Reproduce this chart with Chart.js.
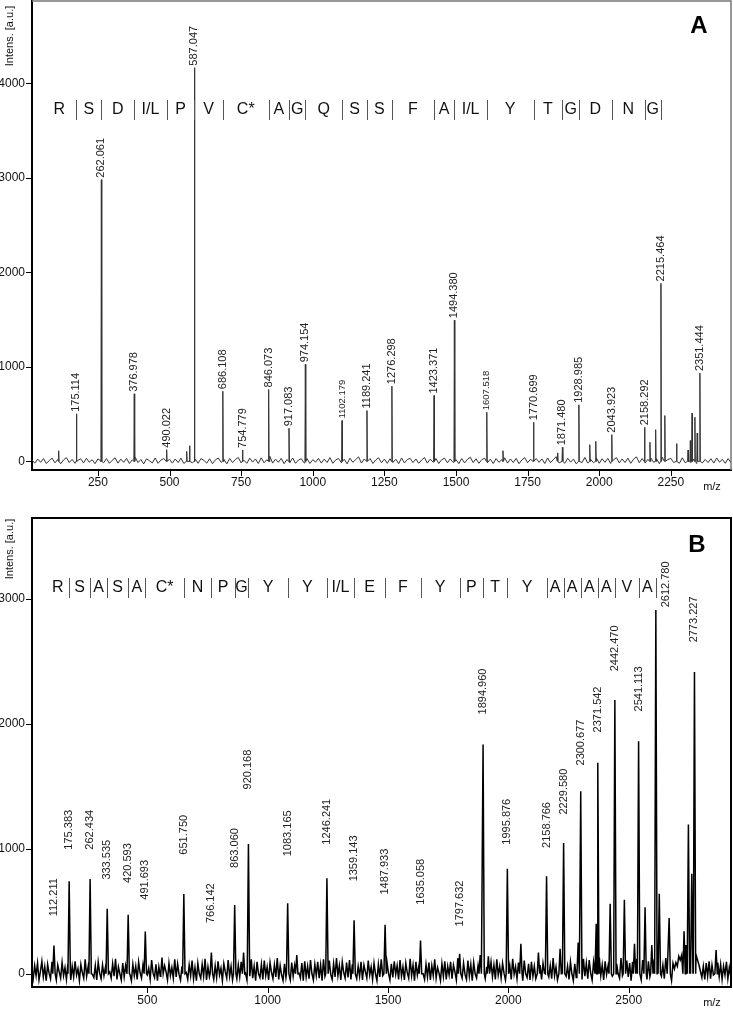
<!DOCTYPE html>
<html>
<head>
<meta charset="utf-8">
<script src="https://cdn.jsdelivr.net/npm/chart.js@4"></script>
<style>
  html, body { margin: 0; padding: 0; background: #fff; }
  #wrap { position: relative; width: 733px; height: 1010px; overflow: hidden; }
  canvas { position: absolute; left: 0; }
  #chartA { top: 0; }
  #chartB { top: 495px; }
</style>
</head>
<body>
<div id="wrap">
  <canvas id="chartA" width="733" height="496"></canvas>
  <canvas id="chartB" width="733" height="515"></canvas>
</div>
<script>
"use strict";

// スペクトルA: ラベル付きピーク
const peakMzA = [175.114, 262.061, 376.978, 490.022, 587.047, 686.108, 754.779, 846.073, 917.083, 974.154,
    1102.179, 1189.241, 1276.298, 1423.371, 1494.380, 1607.518, 1770.699, 1871.480, 1928.985, 2043.923,
    2158.292, 2215.464, 2351.444];
const peakIntA = [503, 2980, 715, 124, 4165, 743, 121, 761, 350, 1027,
    432, 538, 796, 697, 1494, 520, 414, 149, 599, 283,
    361, 1883, 934];
const smallLabelsA = [1102.179, 1607.518];

// スペクトルA: ラベルなしの小さいピーク
const minorMzA = [113, 560, 570, 1664, 1855, 1967, 1988, 2177, 2197, 2229, 2270, 2310, 2318, 2324, 2334, 2342];
const minorIntA = [113, 106, 166, 113, 90, 177, 212, 202, 336, 485, 188, 120, 220, 510, 467, 300];

// スペクトルA: アミノ酸配列と切れ目
const seqA = ["R", "S", "D", "I/L", "P", "V", "C*", "A", "G", "Q", "S", "S", "F", "A", "I/L", "Y", "T", "G", "D", "N", "G"];
const seqCutsA = [175.114, 262.061, 376.978, 490.022, 587.047, 686.108, 846.073, 917.083, 974.154, 1102.179,
    1189.241, 1276.298, 1423.371, 1494.380, 1607.518, 1770.699, 1871.480, 1928.985, 2043.923, 2158.292, 2215.464];
const seqStartA = 55;

// スペクトルA: 目盛り
const xLabelsA = [250, 500, 750, 1000, 1250, 1500, 1750, 2000, 2250];
const yLabelsA = [0, 1000, 2000, 3000, 4000];

// スペクトルA: ベースラインのノイズ (m/z 20 から 10 刻み)
const noiseStartA = 20;
const noiseStepA = 10;
const noiseA = [
    12, -18, 25, -10, 30, -22, 8, 35, -15, 20, -25, 15, 40, -12, 22, -20, 10, 28, -16, 33, -8, 18, -24, 26, 5,
    -14, 30, -20, 12, 38, -18, 24, -10, 32, -22, 16, 45, -12, 20, -26, 28, 6, -16, 36, -20, 14, 30, -10, 22, -18,
    26, -12, 34, -22, 18, 40, -14, 24, -20, 30, 10, -18, 28, -24, 16, 36, -10, 22, -26, 30, -12, 20, 42, -16, 12,
    -20, 34, -8, 26, -22, 38, -14, 18, 55, -18, 24, -10, 32, -24, 20, -12, 36, -20, 14, 28, -16, 30, -22, 18, -8,
    32, -18, 24, -12, 40, -20, 16, 30, -14, 22, -26, 34, -10, 20, 48, -18, 26, -12, 30, -22, 16, 38, -14, 24, -20,
    28, -10, 22, -24, 36, -16, 20, 32, -12, 26, -20, 14, 40, -18, 24, -8, 30, -22, 18, 34, -14, 26, -10, 20, -24,
    30, -16, 22, 44, -12, 28, -20, 18, 34, -14, 24, -22, 30, -10, 20, 38, -18, 26, -12, 32, -24, 16, 40, -14, 22,
    -18, 30, -10, 26, -22, 36, -14, 20, 50, -16, 28, -20, 34, -8, 24, -26, 30, -12, 42, -18, 22, -14, 36, -20, 28,
    -10, 32, -22, 18, 40, -16, 26, -12, 34, -20, 24, 48, -14, 30, -18, 22, 36, -10, 28, -24, 44, -16, 20, 32, -12,
    26, -20, 38, -14, 30, -10, 24, -22, 34, -16, 20, -12, 28, -18, 36, -8, 22, -20, 30, -14
];

// スペクトルB: ラベル付きピーク
const peakMzB = [112.211, 175.383, 262.434, 333.535, 420.593, 491.693, 651.750, 766.142, 863.060, 920.168,
    1083.165, 1246.241, 1359.143, 1487.933, 1635.058, 1797.632, 1894.960, 1995.876, 2158.766, 2229.580,
    2300.677, 2371.542, 2442.470, 2541.113, 2612.780, 2773.227];
const peakIntB = [227, 740, 759, 521, 473, 339, 639, 170, 551, 1040,
    564, 764, 428, 393, 267, 160, 1836, 840, 780, 1048,
    1462, 1690, 2192, 1863, 2913, 2416];

// スペクトルB: ラベルなしの小さいピーク
const minorMzB = [561, 900, 1121, 1883, 1917, 2052, 2125, 2215, 2290, 2365, 2423, 2482, 2524, 2568, 2596, 2627, 2668, 2730, 2748, 2762, 2863];
const minorIntB = [130, 170, 150, 150, 140, 240, 170, 200, 250, 400, 561, 593, 240, 532, 230, 641, 447, 340, 1195, 800, 190];

// スペクトルB: アミノ酸配列と切れ目
const seqB = ["R", "S", "A", "S", "A", "C*", "N", "P", "G", "Y", "Y", "I/L", "E", "F", "Y", "P", "T", "Y", "A", "A", "A", "A", "V", "A"];
const seqCutsB = [175.383, 262.434, 333.535, 420.593, 491.693, 651.750, 766.142, 863.060, 920.168, 1083.165,
    1246.241, 1359.143, 1487.933, 1635.058, 1797.632, 1894.960, 1995.876, 2158.766, 2229.580, 2300.677,
    2371.542, 2442.470, 2541.113, 2612.780];
const seqStartB = 80;

// スペクトルB: 目盛り
const xLabelsB = [500, 1000, 1500, 2000, 2500];
const yLabelsB = [0, 1000, 2000, 3000];

// スペクトルB: ベースラインのノイズ (m/z 20 から 6 刻み)
const noiseStartB = 20;
const noiseStepB = 6;
const noiseB = [
    30, -40, 65, -15, 85, -50, 20, 100, -25, 55, -55, 75, 5, -40, 95, -20, 45, -50, 70, 15, -35, 90, -15, 50, -45,
    80, 0, -50, 60, -25, 100, -10, 40, -55, 75, 10, -35, 115, -20, 55, -45, 85, -5, -30, 65, -50, 95, 5, -40, 70,
    -15, 50, -55, 90, 15, -35, 80, -20, 120, -45, 55, 0, -50, 85, -25, 65, -40, 105, -5, -55, 75, -15, 60, -45, 95,
    10, -35, 70, -50, 90, -10, 45, -45, 110, 5, -30, 75, -55, 55, -20, 100, -40, 65, 15, -50, 85, -15, 50, -35, 115,
    -25, 80, -5, -50, 60, -30, 95, 10, -45, 70, -15, 105, -40, 50, -55, 85, 0, -35, 75, -20, 120, -50, 55, -25, 90,
    5, -45, 65, -30, 100, -10, 45, -55, 80, 15, -35, 110, -20, 60, -50, 90, -5, -40, 70, -25, 95, -45, 50, 5, -50,
    85, -20, 115, -35, 60, -55, 95, 0, -30, 75, -45, 105, -15, 55, -50, 90, 10, -40, 70, -25, 125, -45, 65, -10, -55,
    80, -30, 105, -5, -50, 90, -20, 65, -45, 120, 5, -35, 85, -55, 100, -25, 60, -40, 110, 0, -50, 75, -15, 95, -35,
    70, -55, 115, -20, 85, -40, 105, -5, -45, 80, -25, 125, -15, 65, -50, 95, 10, -35, 90, -30, 110, -45, 75, -10, 100,
    -40, 60, -20, 95, -50, 70, 15, -35, 105, -10, 55, -45, 85, 0, -55, 75, -25, 115, -15, 50, -40, 90, 5, -50, 80,
    -30, 100, -5, 65, -45, 110, -20, 55, -50, 85, 10, -35, 120, -15, 70, -55, 95, -10, 60, -40, 105, 0, -45, 75, -25,
    90, -50, 65, -15, 115, -35, 50, 5, -55, 80, -20, 100, -45, 60, -10, 95, -40, 70, 15, -50, 125, -25, 55, -35, 85,
    -5, -45, 105, -20, 75, -55, 90, 0, -35, 65, -50, 110, -15, 80, -40, 55, 10, -55, 95, -25, 70, -45, 115, -10, 60,
    -35, 85, 5, -50, 100, -20, 65, -45, 120, -5, 55, -40, 90, -15, 75, -55, 105, 0, -30, 80, -50, 95, -20, 60, -40,
    110, -10, 70, -45, 85, 5, -55, 100, -25, 65, -40, 125, -15, 55, -50, 90, -5, 75, -35, 115, -20, 60, -45, 95, 0,
    -55, 80, -30, 105, -10, 65, -45, 120, -20, 85, -40, 110, 5, -50, 95, -25, 75, -35, 130, -15, 70, -50, 100, -5, 60,
    -40, 115, -20, 90, -50, 80, 0, -35, 125, -15, 70, -45, 105, -25, 85, -55, 95, 10, -40, 120, -20, 75, -50, 110, -10,
    65, -45, 100, -25, 90, -35, 115, -5, 80, -50, 105, -20, 70, -40, 125, 0, -30, 95, -55, 85, 40, 90, 60, 140, 110,
    150, 200, 170, 230, 190, 250, 210, 240, 180, 200, 150, 110, 70, 20, -30, 60, -45, 85, -20, 100, -40, 70, -10, 55, -50,
    90, -25, 75, -45, 60, -10, 95, -40, 50, -20
];

// ラベル位置 (B はラベルの下端の強度)
const labelAtB = [460, 994, 994, 754, 727, 593, 954, 406, 848, 1476,
    941, 1034, 740, 634, 553, 379, 2077, 1034, 1008, 1275,
    1668, 1933, 2422, 2101, 2935, 2654];
const labelNudgeB = { "2612.780": 10 };

Chart.defaults.font.family = "'Liberation Sans', Arial, sans-serif";
Chart.defaults.color = "#111";

const tickValues = (min, max, step) => {
    // 目盛りの位置 (小目盛りを含む)
    const out = [];
    for (let v = Math.ceil(min / step) * step; v <= max; v += step) {
        out.push({ value: v });
    }
    return out;
};

const buildSpectrum = (noiseStart, noiseStep, noise, peakLists, halfWidth) => {
    // ノイズとピークを一本の線にまとめる
    const allMz = [];
    const allInt = [];
    peakLists.forEach(([mz, ints]) => {
        mz.forEach((m, i) => {
            allMz.push(m);
            allInt.push(ints[i]);
        });
    });
    const pts = [];
    noise.forEach((v, i) => {
        const x = noiseStart + i * noiseStep;
        if (!allMz.some((m) => Math.abs(m - x) <= halfWidth)) {
            pts.push({ x: x, y: v });
        }
    });
    allMz.forEach((m, i) => {
        pts.push({ x: m - halfWidth, y: 0 });
        pts.push({ x: m, y: allInt[i] });
        pts.push({ x: m + halfWidth, y: 0 });
    });
    return pts.sort((a, b) => a.x - b.x);
};

const line = (ctx, x1, y1, x2, y2) => {
    ctx.beginPath();
    ctx.moveTo(x1, y1);
    ctx.lineTo(x2, y2);
    ctx.stroke();
};

const decorPlugin = {
    id: "decor",
    afterDraw(chart, args, o) {
        const { ctx, chartArea: area } = chart;
        const xs = chart.scales.x;
        const ys = chart.scales.y;
        ctx.save();

        // 上と右の枠
        ctx.strokeStyle = o.frameColor;
        ctx.lineWidth = o.frameWidth;
        ctx.beginPath();
        ctx.moveTo(area.left, area.top);
        ctx.lineTo(area.right, area.top);
        ctx.lineTo(area.right, area.bottom);
        ctx.stroke();

        // 目盛り (大・小)
        ctx.strokeStyle = "#000";
        ctx.lineWidth = 1;
        ys.ticks.forEach((t) => {
            const py = Math.round(ys.getPixelForValue(t.value)) + 0.5;
            const len = o.yLabels.includes(t.value) ? 5 : 3;
            line(ctx, area.left - 1 - len, py, area.left - 1, py);
        });
        xs.ticks.forEach((t) => {
            const px = Math.round(xs.getPixelForValue(t.value)) + 0.5;
            const len = o.xLabels.includes(t.value) ? 5 : 3;
            line(ctx, px, area.bottom + 1, px, area.bottom + 1 + len);
        });

        // ピークのラベル
        ctx.fillStyle = "#222";
        ctx.textAlign = "left";
        ctx.textBaseline = "middle";
        o.peaks.forEach((m, i) => {
            const text = m.toFixed(3);
            const size = o.smallLabels.includes(m) ? o.labelFont - 1.5 : o.labelFont;
            ctx.font = `${size}px 'Liberation Sans', Arial, sans-serif`;
            const px = xs.getPixelForValue(m) + (o.nudge[text] || 0);
            const py = ys.getPixelForValue(o.labelAt[i]) - o.labelGap;
            ctx.save();
            ctx.translate(px, py);
            ctx.rotate(-Math.PI / 2);
            ctx.fillText(text, 0, 0);
            ctx.restore();
        });

        // アミノ酸配列
        const bounds = [o.seqStart, ...o.seqCuts];
        ctx.font = "16px 'Liberation Sans', Arial, sans-serif";
        ctx.textAlign = "center";
        ctx.fillStyle = "#111";
        o.seq.forEach((s, i) => {
            const px = (xs.getPixelForValue(bounds[i]) + xs.getPixelForValue(bounds[i + 1])) / 2;
            ctx.fillText(s, px, o.seqY);
        });
        ctx.strokeStyle = "#555";
        ctx.lineWidth = 1;
        o.seqCuts.forEach((m) => {
            const px = Math.round(xs.getPixelForValue(m)) + 0.5;
            line(ctx, px, o.seqY - 10, px, o.seqY + 10);
        });

        // パネル記号
        ctx.font = "bold 24px 'Liberation Sans', Arial, sans-serif";
        ctx.fillStyle = "#000";
        ctx.fillText(o.panel, o.panelX, o.panelY);

        // 軸タイトル
        ctx.font = "11px 'Liberation Sans', Arial, sans-serif";
        ctx.fillStyle = "#111";
        ctx.fillText("m/z", 712, o.mzY);
        ctx.save();
        ctx.translate(10, o.yTitleY);
        ctx.rotate(-Math.PI / 2);
        ctx.fillText("Intens. [a.u.]", 0, 0);
        ctx.restore();

        ctx.restore();
    },
};

const makeChart = (canvasId, c) => {
    const context = document.getElementById(canvasId).getContext("2d");
    return new Chart(context, {
        type: "line",
        data: {
            datasets: [
                {
                    data: c.points,
                    borderColor: c.lineColor,
                    borderWidth: c.lineWidth,
                    pointRadius: 0,
                    tension: 0,
                    fill: false,
                },
            ],
        },
        options: {
            responsive: false,
            animation: false,
            events: [],
            layout: { padding: { top: c.padTop, right: 2, left: 0, bottom: 0 } },
            plugins: {
                legend: { display: false },
                tooltip: { enabled: false },
                decor: c.decor,
            },
            scales: {
                x: {
                    type: "linear",
                    min: c.xMin,
                    max: c.xMax,
                    offset: false,
                    grid: { drawOnChartArea: false, color: "rgba(0,0,0,0)", tickLength: 5 },
                    border: { color: "#000", width: 2 },
                    ticks: {
                        autoSkip: false,
                        maxRotation: 0,
                        minRotation: 0,
                        padding: c.xPad,
                        font: { size: 12 },
                        color: "#111",
                        callback: (v) => (c.decor.xLabels.includes(v) ? String(v) : null),
                    },
                    afterBuildTicks: (s) => {
                        s.ticks = tickValues(c.xMin, c.xMax, c.xStep);
                    },
                    afterFit: (s) => {
                        s.height = c.xHeight;
                        s.paddingLeft = 0;
                        s.paddingRight = 0;
                    },
                },
                y: {
                    type: "linear",
                    min: c.yMin,
                    max: c.yMax,
                    grid: { drawOnChartArea: false, color: "rgba(0,0,0,0)", tickLength: 5 },
                    border: { color: "#000", width: 2 },
                    ticks: {
                        autoSkip: false,
                        padding: 2,
                        font: { size: 12 },
                        color: "#111",
                        callback: (v) => (c.decor.yLabels.includes(v) ? String(v) : null),
                    },
                    afterBuildTicks: (s) => {
                        s.ticks = tickValues(c.yMin, c.yMax, 200);
                    },
                    afterFit: (s) => {
                        s.width = 32;
                        s.paddingTop = 0;
                        s.paddingBottom = 0;
                    },
                },
            },
        },
        plugins: [decorPlugin],
    });
};

// 👇スペクトルA
const chartA = makeChart("chartA", {
    points: buildSpectrum(noiseStartA, noiseStepA, noiseA, [[peakMzA, peakIntA], [minorMzA, minorIntA]], 1.5),
    lineColor: "#333",
    lineWidth: 1,
    padTop: 1,
    xMin: 20,
    xMax: 2460,
    xStep: 50,
    xPad: 0,
    xHeight: 26,
    yMin: -91,
    yMax: 4870,
    decor: {
        frameColor: "#777",
        frameWidth: 1.5,
        xLabels: xLabelsA,
        yLabels: yLabelsA,
        peaks: peakMzA,
        labelAt: peakIntA,
        labelGap: 2,
        labelFont: 11,
        smallLabels: smallLabelsA,
        nudge: {},
        seq: seqA,
        seqCuts: seqCutsA,
        seqStart: seqStartA,
        seqY: 110,
        panel: "A",
        panelX: 699,
        panelY: 26,
        mzY: 487,
        yTitleY: 36,
    },
});

// 👇スペクトルB
const chartB = makeChart("chartB", {
    points: buildSpectrum(noiseStartB, noiseStepB, noiseB, [[peakMzB, peakIntB], [minorMzB, minorIntB]], 5),
    lineColor: "#000",
    lineWidth: 1.5,
    padTop: 23,
    xMin: 21,
    xMax: 2925,
    xStep: 100,
    xPad: 1,
    xHeight: 23,
    yMin: -106,
    yMax: 3650,
    decor: {
        frameColor: "#000",
        frameWidth: 2,
        xLabels: xLabelsB,
        yLabels: yLabelsB,
        peaks: peakMzB,
        labelAt: labelAtB,
        labelGap: 0,
        labelFont: 11,
        smallLabels: [],
        nudge: labelNudgeB,
        seq: seqB,
        seqCuts: seqCutsB,
        seqStart: seqStartB,
        seqY: 93,
        panel: "B",
        panelX: 697,
        panelY: 50,
        mzY: 508,
        yTitleY: 54,
    },
});
</script>
</body>
</html>
